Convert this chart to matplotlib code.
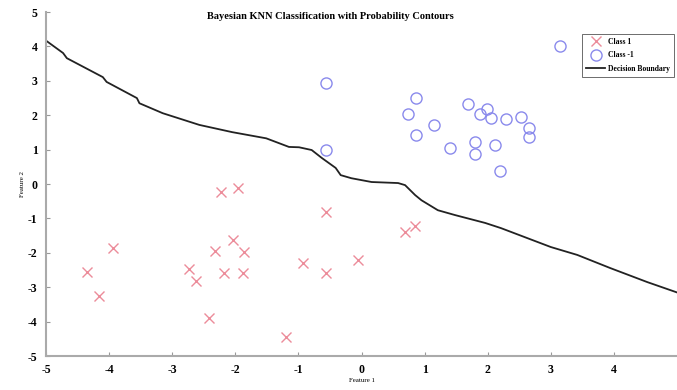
import numpy as np
import matplotlib
matplotlib.use("Agg")
import matplotlib.pyplot as plt

plt.rcParams['font.family'] = ['Liberation Serif', 'DejaVu Serif']
plt.rcParams['font.weight'] = 'bold'
plt.rcParams['axes.unicode_minus'] = False

# Class 1 points (red crosses)
class1_x = [-4.35, -4.16, -3.94, -2.74, -2.63, -2.41, -2.33, -2.22, -2.18, -2.03,
            -1.96, -1.86, -1.88, -1.20, -0.93, -0.57, -0.57, -0.05, 0.69, 0.84]
class1_y = [-2.56, -3.26, -1.86, -2.47, -2.82, -3.90, -1.95, -0.23, -2.59, -1.63,
            -0.12, -1.98, -2.59, -4.45, -2.30, -0.81, -2.59, -2.21, -1.40, -1.22]

# Class -1 points (blue circles)
class2_x = [3.14, 0.87, 0.74, 1.15, 0.87, 1.40, 1.69, 1.88, 1.99, 2.05,
            2.29, 2.52, 2.65, 2.65, 1.80, 1.80, 2.11, 2.19, -0.57, -0.57]
class2_y = [4.01, 2.50, 2.03, 1.71, 1.42, 1.05, 2.33, 2.03, 2.18, 1.92,
            1.89, 1.95, 1.63, 1.37, 1.22, 0.87, 1.13, 0.38, 2.94, 1.00]

# Decision boundary
boundary_x = [-5.0, -4.73, -4.67, -4.10, -4.04, -3.56, -3.52, -3.15, -2.57, -2.05,
              -1.51, -1.15, -0.99, -0.79, -0.63, -0.41, -0.33, -0.16, 0.16, 0.58,
              0.69, 0.85, 0.95, 1.21, 1.48, 1.96, 2.21, 3.0, 3.42, 3.94, 4.53, 5.0]
boundary_y = [4.17, 3.81, 3.66, 3.11, 2.97, 2.50, 2.35, 2.06, 1.72, 1.51,
              1.33, 1.08, 1.07, 0.99, 0.76, 0.47, 0.26, 0.17, 0.06, 0.03,
              -0.03, -0.32, -0.47, -0.76, -0.90, -1.13, -1.28, -1.83, -2.06, -2.44, -2.85, -3.15]

fig = plt.figure(figsize=(6.77, 3.90), dpi=100)
ax = fig.add_axes([0.068, 0.087, 0.932, 0.882])

ax.plot(class1_x, class1_y, 'x', color='#ec8c9a', markersize=6.5, markeredgewidth=1.0, label='Class 1')
ax.plot(class2_x, class2_y, 'o', markerfacecolor='none', markeredgecolor='#8a8aec',
        markersize=8, markeredgewidth=1.0, label='Class -1')
ax.plot(boundary_x, boundary_y, color='#222222', linewidth=1.3, label='Decision Boundary')

ax.set_xlim(-5, 5)
ax.set_ylim(-5, 5)
ax.set_xticks(range(-5, 5))
ax.set_yticks(range(-5, 6))
ax.tick_params(direction='in', length=3, color='#999999', labelsize=8.5, pad=6)
for s in ['top', 'right']:
    ax.spines[s].set_visible(False)
for s in ['left', 'bottom']:
    ax.spines[s].set_color('#aaaaaa')
    ax.spines[s].set_linewidth(1.5)

ax.set_title('Bayesian KNN Classification with Probability Contours', fontsize=7.5,
             fontweight='bold', x=0.45, y=0.955)
ax.set_xlabel('Feature 1', fontsize=5, labelpad=1)
ax.set_ylabel('Feature 2', fontsize=5, labelpad=2)

leg = ax.legend(loc='upper right', bbox_to_anchor=(0.998, 0.94), fontsize=5.5, fancybox=False,
                edgecolor='#555555', framealpha=1, borderpad=0.5, handlelength=2.5,
                labelspacing=0.7, handletextpad=0.4, borderaxespad=0.2)
leg.get_frame().set_linewidth(0.6)

fig.savefig('out.png', dpi=100)
